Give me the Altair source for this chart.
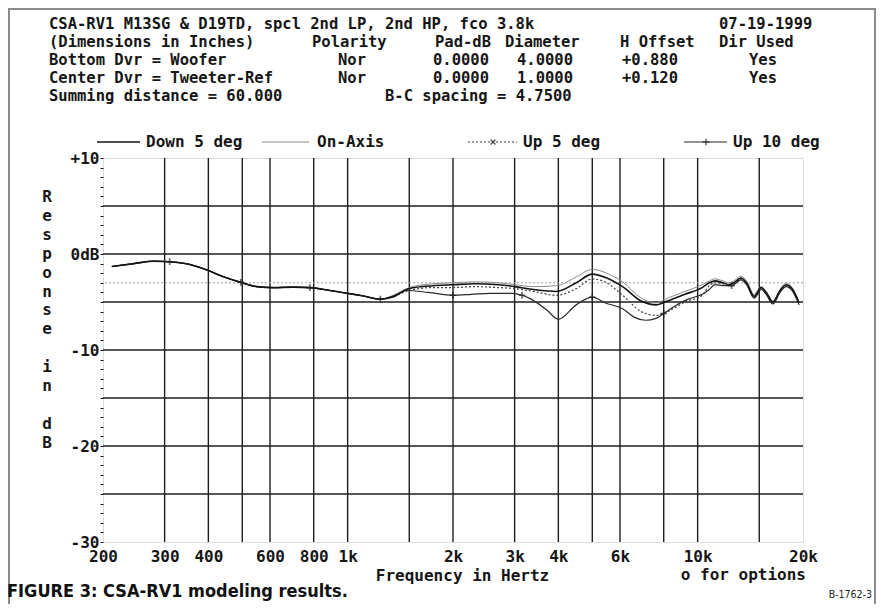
import altair as alt
import pandas as pd

# ---------------- data ----------------
SERIES = ["Down 5 deg", "On-Axis", "Up 5 deg", "Up 10 deg"]

FREQ_MAIN = [212, 245, 280, 310, 350, 395, 440, 495, 550, 615,
             700, 780, 875, 1000, 1100, 1240, 1350, 1500, 1750, 2000,
             2300, 2700, 3000, 3400, 3950, 4500, 5000, 5500, 6100, 6900,
             7600, 8200, 9200, 10300, 10800, 11200, 11800, 12300, 12800, 13300,
             13800, 14500, 15200, 15700, 16400, 17200, 17900, 18600, 19500]

DOWN5_DB = [-1.3, -1.0, -0.75, -0.8, -1.05, -1.65, -2.35, -2.95, -3.4, -3.5,
            -3.45, -3.5, -3.75, -4.1, -4.35, -4.7, -4.4, -3.6, -3.3, -3.2,
            -3.1, -3.2, -3.4, -3.7, -3.9, -3.0, -2.1, -2.5, -3.4, -4.9,
            -5.3, -4.9, -4.2, -3.5, -3.0, -2.8, -3.0, -3.2, -2.9, -2.5,
            -3.0, -4.4, -3.5, -4.0, -5.0, -3.8, -3.2, -3.6, -5.1]
ONAXIS_DB = [-1.3, -1.0, -0.75, -0.8, -1.05, -1.65, -2.35, -2.95, -3.4, -3.5,
             -3.45, -3.5, -3.75, -4.1, -4.35, -4.7, -4.3, -3.5, -3.1, -3.0,
             -2.9, -3.0, -3.2, -3.4, -3.3, -2.4, -1.6, -2.0, -2.9, -4.6,
             -5.1, -4.6, -3.9, -3.2, -2.8, -2.6, -2.8, -3.0, -2.7, -2.3,
             -2.8, -4.2, -3.4, -3.9, -4.9, -3.7, -3.0, -3.5, -5.0]
UP5_DB = [-1.3, -1.0, -0.75, -0.8, -1.05, -1.65, -2.35, -2.95, -3.4, -3.5,
          -3.45, -3.5, -3.75, -4.1, -4.35, -4.7, -4.4, -3.8, -3.5, -3.5,
          -3.4, -3.5, -3.6, -3.9, -4.3, -3.6, -2.6, -3.0, -4.3, -6.0,
          -6.4, -6.0, -5.0, -4.3, -3.3, -3.0, -3.1, -3.3, -3.0, -2.6,
          -3.1, -4.5, -3.6, -4.1, -5.1, -3.9, -3.3, -3.7, -5.2]

FREQ_UP10 = [212, 245, 280, 310, 350, 395, 440, 495, 550, 615,
             700, 780, 875, 1000, 1100, 1240, 1350, 1470, 1700, 2000,
             2260, 2550, 2960, 3150, 3300, 3700, 4000, 4500, 5000, 5450,
             6100, 6600, 7100, 7600, 8000, 8800, 9400, 10300, 10800, 11200,
             11800, 12500, 13300, 13800, 14500, 15200, 15700, 16400, 17200, 17900,
             18600, 19500]
UP10_DB = [-1.3, -1.0, -0.75, -0.8, -1.05, -1.65, -2.35, -2.95, -3.4, -3.5,
           -3.45, -3.5, -3.75, -4.1, -4.35, -4.7, -4.5, -3.8, -4.0, -4.3,
           -4.2, -4.1, -4.1, -4.3, -4.6, -5.8, -6.8, -5.3, -4.5, -5.1,
           -5.7, -6.6, -6.9, -6.7, -6.2, -5.2, -4.7, -4.2, -3.7, -3.2,
           -3.3, -3.3, -2.7, -3.2, -4.6, -3.7, -4.2, -5.2, -4.0, -3.4,
           -3.8, -5.3]
UP10_MARKER_FREQ = [310, 495, 780, 1240, 2000, 3150, 5000, 8000, 12500]

GRID_FREQ = [300, 400, 500, 600, 800, 1000, 1500, 2000, 3000, 4000, 5000,
             6000, 8000, 10000, 15000]
GRID_DB = [5, 0, -5, -10, -15, -20, -25]
REF_DB = [-3]
X_TICKS = [200, 300, 400, 600, 800, 1000, 2000, 3000, 4000, 6000, 10000, 20000]
Y_TICKS = list(range(-30, 11))

HEADER_TEXT = [
    ["CSA-RV1 M13SG & D19TD, spcl 2nd LP, 2nd HP, fco 3.8k", "07-19-1999"],
    ["(Dimensions in Inches)", "Polarity", "Pad-dB", "Diameter", "H Offset", "Dir Used"],
    ["Bottom Dvr = Woofer", "Nor", "0.0000", "4.0000", "+0.880", "Yes"],
    ["Center Dvr = Tweeter-Ref", "Nor", "0.0000", "1.0000", "+0.120", "Yes"],
    ["Summing distance = 60.000", "B-C spacing = 4.7500"],
]
Y_TITLE = ["R", "e", "s", "p", "o", "n", "s", "e", "", "i", "n", "", "d", "B"]
X_TITLE = "Frequency in Hertz"
OPTIONS_TEXT = "o for options"
CAPTION = "FIGURE 3: CSA-RV1 modeling results."
CODE = "B-1762-3"

# ---------------- layout (page px; converted to plot px) ----------------
PL, PT = 103, 158          # page position of the plot origin
W, H = 700, 384
HEADER_X = [[49, 719],
            [49, 312, 435, 505, 620, 719],
            [49, 338, 433, 517, 622, 749],
            [49, 338, 433, 517, 622, 749],
            [49, 385]]
HEADER_Y = [24, 42, 60, 78, 96]
HEADER_SIZE = 15.5
YTITLE_X, YTITLE_Y0, YTITLE_STEP = 47, 197, 18.9

FONT = "DejaVu Sans Mono"
SANS_C = "DejaVu Sans Condensed, Roboto Condensed, Roboto, sans-serif"
INK = "#161616"

rows = []
for name, fr, vals in [("Down 5 deg", FREQ_MAIN, DOWN5_DB),
                       ("On-Axis", FREQ_MAIN, ONAXIS_DB),
                       ("Up 5 deg", FREQ_MAIN, UP5_DB),
                       ("Up 10 deg", FREQ_UP10, UP10_DB)]:
    for f, v in zip(fr, vals):
        rows.append({"series": name, "freq": f, "db": v})
df = pd.DataFrame(rows)
markers = df[(df.series == "Up 10 deg") & (df.freq.isin(UP10_MARKER_FREQ))]

xscale = alt.Scale(type="log", domain=[200, 20000], nice=False)
yscale = alt.Scale(domain=[-30, 10], nice=False)

x_axis = alt.Axis(values=X_TICKS,
                  labelExpr="datum.value >= 1000 ? (datum.value / 1000) + 'k' : '' + datum.value",
                  ticks=False, domain=False, grid=False, labelFlush=False,
                  labelOverlap=False, labelFont=FONT, labelFontSize=16,
                  labelFontWeight="bold", labelColor=INK, labelPadding=6,
                  title=X_TITLE, titleFont=FONT, titleFontSize=16,
                  titleFontWeight="bold", titleColor=INK, titleX=359, titleY=33,
                  titleAlign="center", titleBaseline="middle")
y_axis = alt.Axis(values=Y_TICKS,
                  labelExpr="datum.value == 10 ? '+10' : (datum.value == 0 ? '0dB' : (datum.value % 10 == 0 ? '' + datum.value : ''))",
                  tickSize=3, tickColor=INK, tickWidth=1, domain=False, grid=False,
                  labelOverlap=False, labelFont=FONT, labelFontSize=16,
                  labelFontWeight="bold", labelColor=INK, labelPadding=1,
                  labelBaseline="middle", title=None)

X = alt.X("freq:Q", scale=xscale, axis=x_axis)
Y = alt.Y("db:Q", scale=yscale, axis=y_axis)

one = pd.DataFrame({"k": [0]})
layers = []

# outer frame of the figure
layers.append(alt.Chart(one).mark_rect(fillOpacity=0, stroke="#8c8c8c", strokeWidth=2).encode(
    x=alt.value(9 - PL), x2=alt.value(875 - PL),
    y=alt.value(9 - PT), y2=alt.value(700)))

# grid
layers.append(alt.Chart(pd.DataFrame({"freq": GRID_FREQ})).mark_rule(
    color="#1e1e1e", strokeWidth=1.4).encode(x=X))
layers.append(alt.Chart(pd.DataFrame({"db": GRID_DB})).mark_rule(
    color="#1e1e1e", strokeWidth=1.4).encode(y=Y))
layers.append(alt.Chart(pd.DataFrame({"db": REF_DB})).mark_rule(
    color="#9a9a9a", strokeWidth=1, strokeDash=[2, 2]).encode(y=Y))

STYLE = {
    "On-Axis": dict(color="#8a8a8a", strokeWidth=1.0),
    "Up 5 deg": dict(color="#3c3c3c", strokeWidth=1.2, strokeDash=[2, 2]),
    "Up 10 deg": dict(color="#2a2a2a", strokeWidth=1.2),
    "Down 5 deg": dict(color="#141414", strokeWidth=1.6),
}
for name in ["On-Axis", "Up 5 deg", "Up 10 deg", "Down 5 deg"]:
    layers.append(alt.Chart(df).transform_filter(alt.datum.series == name).mark_line(
        interpolate="monotone", **STYLE[name]).encode(x=X, y=Y, order="freq:Q"))

PLUS = "M-1,0L1,0M0,-1L0,1"
layers.append(alt.Chart(markers).mark_point(shape=PLUS, filled=False, size=45,
                                            stroke="#1e1e1e", strokeWidth=1.6).encode(x=X, y=Y))

# legend (custom, as in the original printout)
LEG_Y = 142 - PT
LEG = [  # (line x0, line x1, text x, marker x) in page px
    (97, 140, 146, None),
    (262, 309, 317, None),
    (468, 517, 523, 493),
    (684, 727, 733, 706),
]
for name, (x0, x1, tx, mx) in zip(SERIES, LEG):
    st = STYLE[name]
    layers.append(alt.Chart(one).mark_rule(**st).encode(
        x=alt.value(x0 - PL), x2=alt.value(x1 - PL), y=alt.value(LEG_Y)))
    layers.append(alt.Chart(one).mark_text(
        text=name, font=FONT, fontSize=16, fontWeight="bold", color=INK,
        align="left", baseline="middle").encode(x=alt.value(tx - PL), y=alt.value(LEG_Y)))
    if mx is not None:
        shape = PLUS if name == "Up 10 deg" else "M-1,-1L1,1M-1,1L1,-1"
        layers.append(alt.Chart(one).mark_point(
            shape=shape, filled=False, size=45 if name == "Up 10 deg" else 25,
            stroke="#1e1e1e", strokeWidth=1.5).encode(
            x=alt.value(mx - PL), y=alt.value(LEG_Y)))

# vertical y-axis title, one letter per line
for i, ch in enumerate(Y_TITLE):
    if ch:
        layers.append(alt.Chart(one).mark_text(
            text=ch, font=FONT, fontSize=16, fontWeight="bold", color=INK,
            align="center", baseline="middle").encode(
            x=alt.value(YTITLE_X - PL), y=alt.value(YTITLE_Y0 + i * YTITLE_STEP - PT)))

# header block
for r, (texts, xs) in enumerate(zip(HEADER_TEXT, HEADER_X)):
    for t, xx in zip(texts, xs):
        layers.append(alt.Chart(one).mark_text(
            text=t, font=FONT, fontSize=HEADER_SIZE, fontWeight="bold", color=INK,
            align="left", baseline="middle").encode(
            x=alt.value(xx - PL), y=alt.value(HEADER_Y[r] - PT)))

# bottom texts
layers.append(alt.Chart(one).mark_text(
    text=OPTIONS_TEXT, font=FONT, fontSize=16, fontWeight="bold", color=INK,
    align="right", baseline="middle").encode(x=alt.value(806 - PL), y=alt.value(575 - PT)))
layers.append(alt.Chart(one).mark_text(
    text=CAPTION, font=SANS_C, fontSize=18, fontWeight="bold",
    color="#111", align="left", baseline="middle").encode(
    x=alt.value(7 - PL), y=alt.value(592 - PT)))
layers.append(alt.Chart(one).mark_text(
    text=CODE, font=SANS_C, fontSize=10.5, color="#222",
    align="right", baseline="middle").encode(x=alt.value(872 - PL), y=alt.value(595 - PT)))

chart = alt.layer(*layers).properties(
    width=W, height=H,
    autosize=alt.AutoSizeParams(type="none"),
    padding={"left": PL - 8, "top": PT - 8, "right": 868 - (PL - 8) - W,
             "bottom": 596 - (PT - 8) - H},
).configure_view(stroke="#1e1e1e", strokeWidth=1.5).configure(background="white")

chart.save("out.html", embed_options={"renderer": "svg", "actions": False})
